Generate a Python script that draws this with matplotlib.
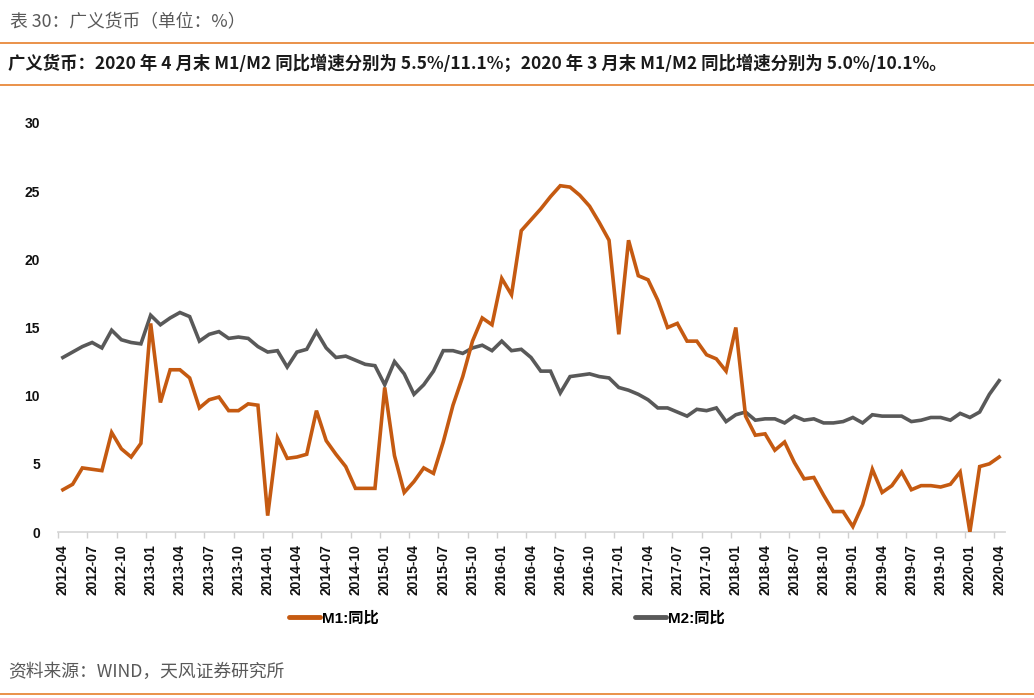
import matplotlib
matplotlib.use("Agg")
import matplotlib.pyplot as plt
from matplotlib.lines import Line2D
import pandas as pd
import numpy as np

plt.rcParams['font.family'] = ['Liberation Sans', 'Noto Sans CJK SC', 'DejaVu Sans']

# ---------------- data ----------------
start_month = "2012-04"
end_month = "2020-04"
months = [str(p) for p in pd.period_range(start_month, end_month, freq="M")]

m1_yoy = [3.1, 3.5, 4.7, 4.6, 4.5, 7.3, 6.1, 5.5, 6.5,
          15.3, 9.5, 11.9, 11.9, 11.3, 9.1, 9.7, 9.9, 8.9, 8.9, 9.4, 9.3,
          1.2, 6.9, 5.4, 5.5, 5.7, 8.9, 6.7, 5.7, 4.8, 3.2, 3.2, 3.2,
          10.6, 5.6, 2.9, 3.7, 4.7, 4.3, 6.6, 9.3, 11.4, 14.0, 15.7, 15.2,
          18.6, 17.4, 22.1, 22.9, 23.7, 24.6, 25.4, 25.3, 24.7, 23.9, 22.7, 21.4,
          14.5, 21.4, 18.8, 18.5, 17.0, 15.0, 15.3, 14.0, 14.0, 13.0, 12.7, 11.8,
          15.0, 8.5, 7.1, 7.2, 6.0, 6.6, 5.1, 3.9, 4.0, 2.7, 1.5, 1.5,
          0.4, 2.0, 4.6, 2.9, 3.4, 4.4, 3.1, 3.4, 3.4, 3.3, 3.5, 4.4,
          0.0, 4.8, 5.0, 5.5]

m2_yoy = [12.8, 13.2, 13.6, 13.9, 13.5, 14.8, 14.1, 13.9, 13.8,
          15.9, 15.2, 15.7, 16.1, 15.8, 14.0, 14.5, 14.7, 14.2, 14.3, 14.2, 13.6,
          13.2, 13.3, 12.1, 13.2, 13.4, 14.7, 13.5, 12.8, 12.9, 12.6, 12.3, 12.2,
          10.8, 12.5, 11.6, 10.1, 10.8, 11.8, 13.3, 13.3, 13.1, 13.5, 13.7, 13.3,
          14.0, 13.3, 13.4, 12.8, 11.8, 11.8, 10.2, 11.4, 11.5, 11.6, 11.4, 11.3,
          10.6, 10.4, 10.1, 9.7, 9.1, 9.1, 8.8, 8.5, 9.0, 8.9, 9.1, 8.1,
          8.6, 8.8, 8.2, 8.3, 8.3, 8.0, 8.5, 8.2, 8.3, 8.0, 8.0, 8.1,
          8.4, 8.0, 8.6, 8.5, 8.5, 8.5, 8.1, 8.2, 8.4, 8.4, 8.2, 8.7,
          8.4, 8.8, 10.1, 11.1]

series_names = ["M1:同比", "M2:同比"]
y_ticks = [0, 5, 10, 15, 20, 25, 30]
title_text = "表 30：广义货币（单位：%）"
subtitle_text = ("广义货币：2020 年 4 月末 M1/M2 同比增速分别为 5.5%/11.1%；"
                 "2020 年 3 月末 M1/M2 同比增速分别为 5.0%/10.1%。")
source_text = "资料来源：WIND，天风证券研究所"

# ---------------- style ----------------
c_m1 = "#C55A11"
c_m2 = "#595959"
c_rule = "#E8893A"

W, H = 1034, 698
fig = plt.figure(figsize=(W / 100, H / 100), dpi=100)

def fx(px):
    return px / W

def fy(py):
    return 1 - py / H

ax = fig.add_axes([fx(58), fy(532), fx(1005) - fx(58), fy(123) - fy(532)])

x = np.arange(len(months))
ax.plot(x, m1_yoy, color=c_m1, lw=2.6, solid_joinstyle="miter", label=series_names[0], zorder=3)
ax.plot(x, m2_yoy, color=c_m2, lw=2.6, solid_joinstyle="miter", label=series_names[1], zorder=2)

ax.set_ylim(0, 30)
ax.set_xlim(-0.5, len(months) - 0.4)
ax.set_yticks(y_ticks)
ax.set_yticklabels([str(v) for v in y_ticks], fontsize=10, fontweight="bold", color="#111111")
ax.tick_params(axis="y", length=0, pad=13)

lab_idx = list(range(0, len(months), 3))
ax.set_xticks(lab_idx)
ax.set_xticklabels([months[i] for i in lab_idx], rotation=90, fontsize=10,
                   fontweight="bold", color="#111111")
ax.tick_params(axis="x", which="major", length=0, pad=9)
ax.set_xticks([i - 0.5 for i in lab_idx], minor=True)
ax.tick_params(axis="x", which="minor", length=4, width=1, color="#D0D0D0")

for s in ["top", "right", "left"]:
    ax.spines[s].set_visible(False)
ax.spines["bottom"].set_color("#D9D9D9")
ax.spines["bottom"].set_linewidth(1.3)
ax.spines["bottom"].set_zorder(1)

# legend
handles = [Line2D([0], [0], color=c_m1, lw=3.5, solid_capstyle="round"),
           Line2D([0], [0], color=c_m2, lw=3.5, solid_capstyle="round")]
leg = fig.legend(handles, series_names, loc="center", bbox_to_anchor=(fx(507), fy(618)),
                 ncol=2, frameon=False, handlelength=2.0, handletextpad=0.15,
                 columnspacing=16.8, prop={"size": 11, "weight": "bold"})

# header / footer
fig.text(fx(10), fy(22), title_text, fontsize=12.8, color="#595959",
         family=["Noto Sans CJK SC", "DejaVu Sans"], va="center", ha="left")
fig.text(fx(8), fy(64), subtitle_text, fontsize=12.5, color="#1a1a1a", fontweight="bold",
         family=["Noto Sans CJK SC", "DejaVu Sans"], va="center", ha="left")
fig.text(fx(8), fy(672), source_text, fontsize=12.8, color="#595959",
         family=["Noto Sans CJK SC", "DejaVu Sans"], va="center", ha="left")

for py in (43, 85, 694):
    fig.add_artist(Line2D([0, 1], [fy(py), fy(py)], color=c_rule, lw=1.3, transform=fig.transFigure))

fig.savefig("out.png", dpi=100, facecolor="white")
